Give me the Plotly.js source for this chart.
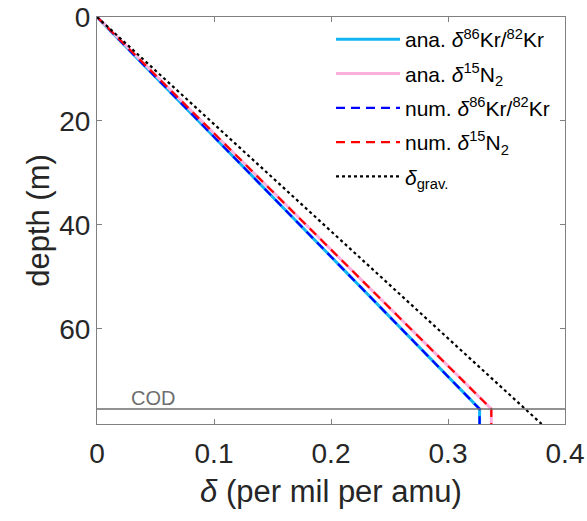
<!DOCTYPE html>
<html>
<head>
<meta charset="utf-8">
<script src="https://cdn.plot.ly/plotly-3.0.1.min.js"></script>
<style>html,body{margin:0;padding:0;background:#fff}</style>
</head>
<body>
<div id="chart" style="width:587px;height:521px"></div>
<script>
// depth (m)
const depth = [0, 20, 40, 60, 75.4, 78.3];
// analytic / numerical delta values (per mil per amu)
const anaKr = [0, 0.0867, 0.1734, 0.2601, 0.327, 0.327];
const anaN2 = [0, 0.0894, 0.1788, 0.2682, 0.337, 0.337];
const numKr = [0, 0.0867, 0.1734, 0.2601, 0.327, 0.327];
const numN2 = [0, 0.0894, 0.1788, 0.2682, 0.337, 0.337];
const gravDepth = [0, 78.3];
const grav = [0, 0.380];
const codDepth = 75.4;
const xTicks = [0, 0.1, 0.2, 0.3, 0.4];
const yTicks = [0, 20, 40, 60];
const names = [
  'ana. <i>δ</i><sup>86</sup>Kr/<sup>82</sup>Kr',
  'ana. <i>δ</i><sup>15</sup>N<sub>2</sub>',
  'num. <i>δ</i><sup>86</sup>Kr/<sup>82</sup>Kr',
  'num. <i>δ</i><sup>15</sup>N<sub>2</sub>',
  '<i>δ</i><sub>grav.</sub>'
];

const traces = [
  {x: anaKr, y: depth, name: names[0], legendgroup: 'a', line: {color: '#12b4f2', width: 3}},
  {x: anaN2, y: depth, name: names[1], legendgroup: 'b', line: {color: '#ffb0dc', width: 3}},
  {x: numKr, y: depth, name: names[2], legendgroup: 'c', line: {color: '#0000ff', width: 2.2, dash: '9px,6px'}},
  {x: numN2, y: depth, name: names[3], legendgroup: 'd', line: {color: '#ff0000', width: 2.2, dash: '9px,6px'}},
  {x: grav, y: gravDepth, name: names[4], legendgroup: 'e', line: {color: '#000000', width: 2.2, dash: 'dot'}}
].map(t => Object.assign({type: 'scatter', mode: 'lines', hoverinfo: 'skip'}, t));

const axisBase = {
  showline: true, mirror: 'ticks', linecolor: '#808080', linewidth: 1,
  ticks: 'inside', ticklen: 5, tickcolor: '#808080', tickwidth: 1,
  showgrid: false, zeroline: false, automargin: false,
  tickfont: {family: 'Liberation Sans, Arial, sans-serif', size: 28, color: '#262626'}
};

const layout = {
  width: 587, height: 521,
  margin: {l: 97, r: 22, t: 17, b: 97},
  paper_bgcolor: '#fff', plot_bgcolor: '#fff',
  font: {family: 'Liberation Sans, Arial, sans-serif', color: '#262626'},
  showlegend: true,
  xaxis: Object.assign({}, axisBase, {
    range: [0, 0.4], tickvals: xTicks, ticktext: xTicks.map(String), ticklabelstandoff: 4,
    title: {text: '<i>δ</i> (per mil per amu)', font: {size: 31, color: '#262626'}, standoff: 12}
  }),
  yaxis: Object.assign({}, axisBase, {
    range: [78.3, 0], tickvals: yTicks, ticktext: yTicks.map(String),
    title: {text: 'depth (m)', font: {size: 31, color: '#262626'}, standoff: 0}
  }),
  legend: {
    x: 0.5, y: 0.995, xanchor: 'left', yanchor: 'top',
    bgcolor: 'rgba(255,255,255,0)', borderwidth: 0,
    font: {size: 21, color: '#000'}, tracegroupgap: 4, itemwidth: 64
  },
  shapes: [{
    type: 'line', xref: 'paper', x0: 0, x1: 1, yref: 'y', y0: codDepth, y1: codDepth,
    line: {color: '#6e6e6e', width: 1.5}
  }],
  annotations: [{
    text: 'COD', xref: 'x', x: 0.027, yref: 'y', y: codDepth, xanchor: 'left', yanchor: 'bottom',
    showarrow: false, font: {size: 20, color: '#6e6e6e'}, yshift: -2
  }]
};

Plotly.newPlot('chart', traces, layout, {displayModeBar: false, staticPlot: true});
</script>
</body>
</html>
